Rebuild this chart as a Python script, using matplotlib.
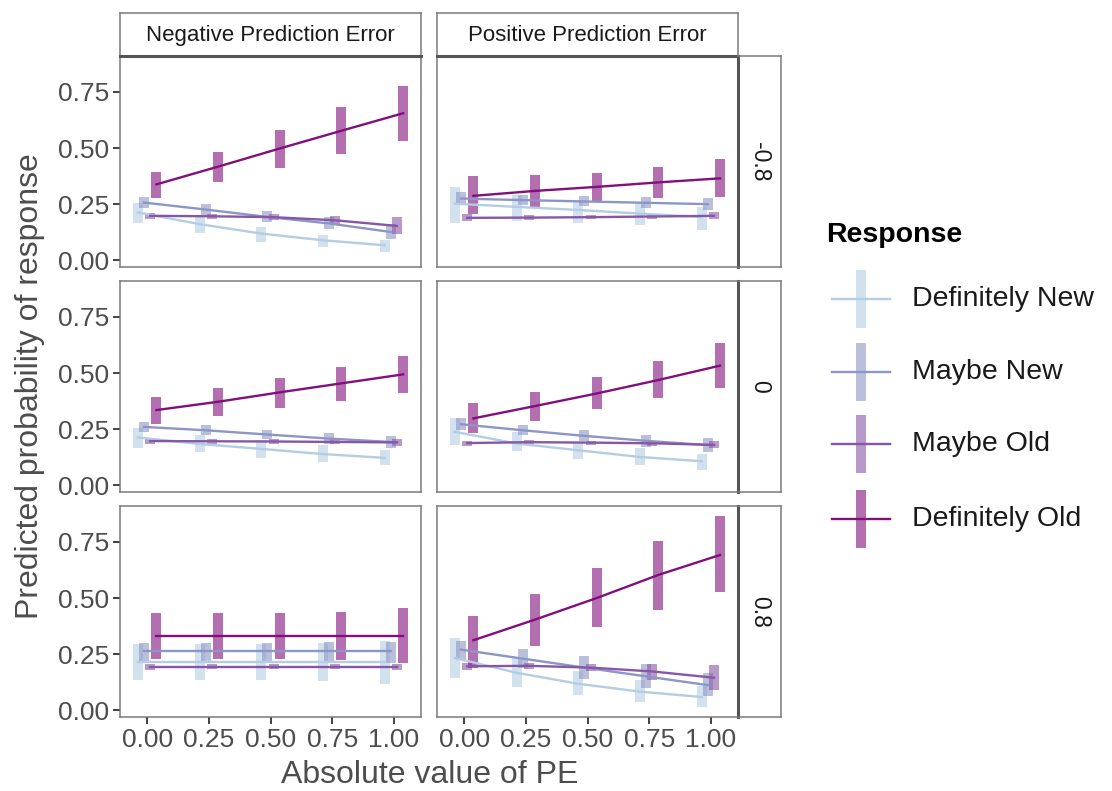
import numpy as np
import matplotlib
matplotlib.use("Agg")
import matplotlib.pyplot as plt

plt.rcParams["font.family"] = ["Liberation Sans", "DejaVu Sans"]

# predicted probabilities, one row of 5 values per panel:
# (-0.8 neg, -0.8 pos, 0 neg, 0 pos, 0.8 neg, 0.8 pos)
abs_pe = [0.0, 0.25, 0.5, 0.75, 1.0]
pe_sign = ["Negative Prediction Error", "Positive Prediction Error"]
row_levels = ["-0.8", "0", "0.8"]
responses = ["Definitely New", "Maybe New", "Maybe Old", "Definitely Old"]
colors = ["#b3cde3", "#8c96c6", "#8856a7", "#810f7c"]

def_new_fit = [[0.213, 0.161, 0.119, 0.089, 0.067],
               [0.252, 0.238, 0.224, 0.208, 0.193],
               [0.213, 0.184, 0.162, 0.139, 0.122],
               [0.238, 0.186, 0.156, 0.126, 0.107],
               [0.214, 0.214, 0.214, 0.214, 0.214],
               [0.233, 0.167, 0.118, 0.083, 0.059]]
def_new_lo = [[0.164, 0.122, 0.083, 0.060, 0.037],
              [0.167, 0.175, 0.167, 0.156, 0.134],
              [0.167, 0.146, 0.122, 0.104, 0.089],
              [0.179, 0.152, 0.119, 0.092, 0.067],
              [0.137, 0.137, 0.135, 0.132, 0.118],
              [0.145, 0.103, 0.067, 0.039, 0.015]]
def_new_hi = [[0.253, 0.193, 0.149, 0.112, 0.092],
              [0.327, 0.290, 0.260, 0.253, 0.238],
              [0.256, 0.223, 0.201, 0.179, 0.156],
              [0.298, 0.238, 0.193, 0.164, 0.141],
              [0.297, 0.297, 0.297, 0.300, 0.307],
              [0.322, 0.234, 0.174, 0.134, 0.108]]

may_new_fit = [[0.257, 0.226, 0.193, 0.164, 0.126],
               [0.275, 0.268, 0.262, 0.256, 0.250],
               [0.260, 0.245, 0.226, 0.208, 0.193],
               [0.272, 0.245, 0.220, 0.198, 0.179],
               [0.263, 0.263, 0.263, 0.263, 0.263],
               [0.270, 0.230, 0.190, 0.151, 0.112]]
may_new_lo = [[0.235, 0.203, 0.170, 0.138, 0.095],
              [0.246, 0.245, 0.240, 0.232, 0.222],
              [0.238, 0.224, 0.205, 0.185, 0.165],
              [0.245, 0.222, 0.197, 0.172, 0.148],
              [0.212, 0.212, 0.212, 0.212, 0.210],
              [0.223, 0.189, 0.140, 0.100, 0.065]]
may_new_hi = [[0.281, 0.250, 0.218, 0.192, 0.160],
              [0.305, 0.292, 0.285, 0.280, 0.278],
              [0.283, 0.268, 0.248, 0.232, 0.220],
              [0.300, 0.268, 0.244, 0.225, 0.210],
              [0.300, 0.300, 0.300, 0.302, 0.305],
              [0.307, 0.275, 0.240, 0.205, 0.165]]

may_old_fit = [[0.198, 0.196, 0.192, 0.178, 0.153],
               [0.189, 0.190, 0.192, 0.195, 0.198],
               [0.197, 0.196, 0.195, 0.193, 0.191],
               [0.188, 0.192, 0.190, 0.187, 0.180],
               [0.194, 0.194, 0.194, 0.194, 0.194],
               [0.196, 0.198, 0.190, 0.173, 0.145]]
may_old_lo = [[0.185, 0.185, 0.180, 0.160, 0.119],
              [0.177, 0.181, 0.183, 0.183, 0.182],
              [0.185, 0.186, 0.186, 0.182, 0.175],
              [0.177, 0.183, 0.181, 0.176, 0.166],
              [0.180, 0.184, 0.184, 0.184, 0.180],
              [0.180, 0.185, 0.175, 0.135, 0.090]]
may_old_hi = [[0.210, 0.207, 0.205, 0.197, 0.193],
              [0.206, 0.200, 0.201, 0.207, 0.213],
              [0.209, 0.206, 0.204, 0.204, 0.207],
              [0.199, 0.201, 0.199, 0.198, 0.195],
              [0.208, 0.204, 0.204, 0.204, 0.208],
              [0.212, 0.212, 0.207, 0.208, 0.200]]

def_old_fit = [[0.338, 0.417, 0.498, 0.577, 0.655],
               [0.287, 0.309, 0.327, 0.347, 0.365],
               [0.335, 0.372, 0.414, 0.454, 0.494],
               [0.298, 0.353, 0.409, 0.469, 0.533],
               [0.333, 0.333, 0.333, 0.333, 0.333],
               [0.312, 0.404, 0.500, 0.603, 0.692]]
def_old_lo = [[0.278, 0.347, 0.409, 0.472, 0.533],
              [0.204, 0.234, 0.265, 0.278, 0.280],
              [0.275, 0.308, 0.342, 0.375, 0.409],
              [0.234, 0.287, 0.339, 0.387, 0.432],
              [0.229, 0.229, 0.229, 0.222, 0.211],
              [0.189, 0.285, 0.370, 0.448, 0.525]]
def_old_hi = [[0.394, 0.481, 0.580, 0.682, 0.777],
              [0.376, 0.378, 0.390, 0.414, 0.449],
              [0.391, 0.432, 0.476, 0.525, 0.577],
              [0.365, 0.417, 0.481, 0.553, 0.633],
              [0.433, 0.433, 0.433, 0.440, 0.455],
              [0.422, 0.519, 0.636, 0.755, 0.865]]

fits = [def_new_fit, may_new_fit, may_old_fit, def_old_fit]
los = [def_new_lo, may_new_lo, may_old_lo, def_old_lo]
his = [def_new_hi, may_new_hi, may_old_hi, def_old_hi]
dodge = [-0.0375, -0.0125, 0.0125, 0.0375]

W, H = 1112, 791
fig = plt.figure(figsize=(W / 100, H / 100), dpi=100)


def add_px_axes(x0, y0, x1, y1):
    return fig.add_axes([x0 / W, 1 - y1 / H, (x1 - x0) / W, (y1 - y0) / H])


col_x = [(120, 421), (437, 738)]
row_y = [(56, 267), (281, 492), (506, 717)]
border = "#7a7a7a"
tick_col = "#333333"
lab_col = "#4d4d4d"
bar_alpha = 0.6

for r in range(3):
    for c in range(2):
        p = r * 2 + c
        ax = add_px_axes(col_x[c][0], row_y[r][0], col_x[c][1], row_y[r][1])
        x = np.array(abs_pe)
        for k in range(4):
            ax.vlines(x + dodge[k], los[k][p], his[k][p], color=colors[k],
                      lw=7.2, alpha=bar_alpha, capstyle="butt", zorder=2)
        for k in range(4):
            ax.plot(x + dodge[k], fits[k][p], color=colors[k], lw=1.7, zorder=3)
        ax.set_xlim(-0.11, 1.11)
        ax.set_ylim(-0.03, 0.91)
        ax.set_xticks(abs_pe)
        ax.set_yticks([0, 0.25, 0.5, 0.75])
        for s in ax.spines.values():
            s.set_color(border)
            s.set_linewidth(1.1)
        ax.tick_params(length=5, width=1.3, color=tick_col, labelcolor=lab_col,
                       labelsize=19, pad=3)
        if c == 0:
            ax.set_yticklabels(["0.00", "0.25", "0.50", "0.75"])
        else:
            ax.tick_params(axis="y", left=False, labelleft=False)
        if r == 2:
            ax.set_xticklabels(["0.00", "0.25", "0.50", "0.75", "1.00"])
        else:
            ax.tick_params(axis="x", bottom=False, labelbottom=False)

# facet strips
for c in range(2):
    st = add_px_axes(col_x[c][0], 13, col_x[c][1], row_y[0][0])
    st.set_xticks([])
    st.set_yticks([])
    for s in st.spines.values():
        s.set_color(border)
        s.set_linewidth(1.1)
    st.spines["bottom"].set_color("#555555")
    st.spines["bottom"].set_linewidth(2.2)
    st.text(0.5, 0.47, pe_sign[c], ha="center", va="center", fontsize=16,
            color="#1a1a1a", transform=st.transAxes)

for r in range(3):
    st = add_px_axes(col_x[1][1], row_y[r][0], 781, row_y[r][1])
    st.set_xticks([])
    st.set_yticks([])
    for s in st.spines.values():
        s.set_color(border)
        s.set_linewidth(1.1)
    st.spines["left"].set_color("#555555")
    st.spines["left"].set_linewidth(2.2)
    st.text(0.5, 0.5, row_levels[r], ha="center", va="center", fontsize=16.5,
            rotation=-90, color="#1a1a1a", transform=st.transAxes)

fig.text(430 / W, 1 - 775 / H, "Absolute value of PE", ha="center", va="center",
         fontsize=23, color="#4d4d4d")
fig.text(30 / W, 1 - 386 / H, "Predicted probability of response", ha="center",
         va="center", rotation=90, fontsize=23, color="#4d4d4d")

# legend drawn in pixel coordinates
leg = add_px_axes(815, 200, 1112, 560)
leg.set_xlim(815, 1112)
leg.set_ylim(560, 200)
leg.axis("off")
leg.text(826, 235, "Response", fontsize=20.5, fontweight="bold", va="center",
         ha="left", color="black")
key_y = [299, 372, 444, 519]
for k, name in enumerate(responses):
    leg.vlines(861, key_y[k] - 29, key_y[k] + 29, color=colors[k], lw=7.2,
               alpha=bar_alpha, capstyle="butt")
    leg.plot([832, 890], [key_y[k], key_y[k]], color=colors[k], lw=1.7)
    leg.text(912, key_y[k], name, fontsize=20.5, va="center", ha="left",
             color="#1a1a1a")

fig.savefig("out.png", dpi=100, facecolor="white")
